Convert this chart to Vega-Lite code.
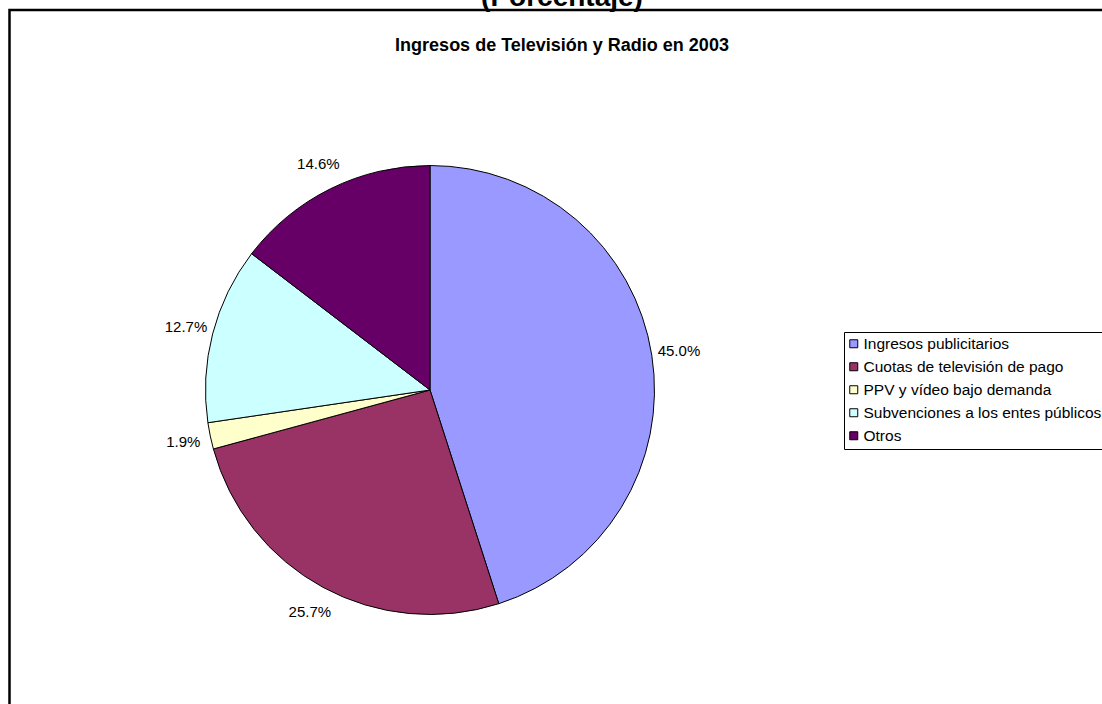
{
  "$schema": "https://vega.github.io/schema/vega-lite/v6.json",
  "width": 1093,
  "height": 694,
  "autosize": "none",
  "padding": {"left": 9.5, "top": 10, "right": 0, "bottom": 0},
  "background": "white",
  "title": {
    "text": "(Porcentaje)",
    "subtitle": "Ingresos de Televisión y Radio en 2003",
    "anchor": "middle",
    "frame": "group",
    "font": "Liberation Sans",
    "fontSize": 28,
    "fontWeight": "bold",
    "color": "black",
    "subtitleFont": "Liberation Sans",
    "subtitleFontSize": 18,
    "subtitleFontWeight": "bold",
    "subtitleColor": "black",
    "subtitlePadding": 25,
    "offset": -46,
    "dx": 6
  },
  "data": {
    "values": [
      {"idx": 1, "categoria": "Ingresos publicitarios", "valor": 0.450},
      {"idx": 2, "categoria": "Cuotas de televisión de pago", "valor": 0.257},
      {"idx": 3, "categoria": "PPV y vídeo bajo demanda", "valor": 0.019},
      {"idx": 4, "categoria": "Subvenciones a los entes públicos", "valor": 0.127},
      {"idx": 5, "categoria": "Otros", "valor": 0.146}
    ]
  },
  "layer": [
    {
      "data": {"values": [{"marco": 1}]},
      "mark": {"type": "rect", "x": 0, "y": 0, "x2": {"expr": "width + 20"}, "y2": {"expr": "height + 20"}, "fill": null, "fillOpacity": 0, "stroke": "black", "strokeWidth": 2.5},
      "encoding": {}
    },
    {
      "mark": {"type": "arc", "x": 420.5, "y": 380, "outerRadius": 224.5, "stroke": "black", "strokeWidth": 1},
      "encoding": {
        "theta": {"field": "valor", "type": "quantitative", "stack": true},
        "order": {"field": "idx", "type": "quantitative"},
        "color": {
          "field": "categoria",
          "type": "nominal",
          "sort": ["Ingresos publicitarios", "Cuotas de televisión de pago", "PPV y vídeo bajo demanda", "Subvenciones a los entes públicos", "Otros"],
          "scale": {
            "domain": ["Ingresos publicitarios", "Cuotas de televisión de pago", "PPV y vídeo bajo demanda", "Subvenciones a los entes públicos", "Otros"],
            "range": ["#9999FF", "#993366", "#FFFFCC", "#CCFFFF", "#660066"]
          },
          "legend": {
            "title": null,
            "orient": "none",
            "legendX": 834.5,
            "legendY": 322,
            "padding": 4,
            "strokeColor": "black",
            "fillColor": "white",
            "symbolType": "square",
            "symbolSize": 64,
            "symbolOffset": -2,
            "symbolStrokeColor": "black",
            "symbolStrokeWidth": 1,
            "symbolOpacity": 1,
            "labelFont": "Liberation Sans",
            "labelFontSize": 15.5,
            "labelColor": "black",
            "labelOffset": 2,
            "labelLimit": 400,
            "rowPadding": 6
          }
        }
      }
    },
    {
      "mark": {"type": "text", "x": 420.5, "y": 380, "radius": 252, "font": "Liberation Sans", "fontSize": 15, "fill": "black"},
      "encoding": {
        "theta": {"field": "valor", "type": "quantitative", "stack": true},
        "order": {"field": "idx", "type": "quantitative"},
        "text": {"field": "valor", "type": "quantitative", "format": ".1%"}
      }
    }
  ]
}
